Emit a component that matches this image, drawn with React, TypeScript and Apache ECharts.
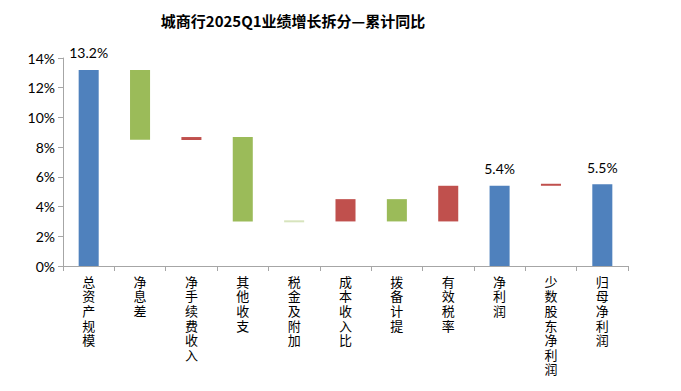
import React, { useEffect, useRef } from "react";
import * as echarts from "echarts";

const titleText = "城商行2025Q1业绩增长拆分—累计同比";
const categories = [
  "总资产规模",
  "净息差",
  "净手续费收入",
  "其他收支",
  "税金及附加",
  "成本收入比",
  "拨备计提",
  "有效税率",
  "净利润",
  "少数股东净利润",
  "归母净利润",
];
// bottom and top of each floating bar (%)
const barLow = [0, 8.5, 8.48, 3.0, 2.94, 3.0, 3.0, 3.0, 0, 5.4, 0];
const barHigh = [13.2, 13.2, 8.68, 8.68, 3.0, 4.5, 4.5, 5.4, 5.4, 5.5, 5.5];
// bar kind: total / up / down / downLight
const barKind = ["total", "down", "up", "down", "downLight", "up", "down", "up", "total", "up", "total"];
const yTicks = { min: 0, max: 14, interval: 2 };

const kindColor: Record<string, string> = {
  total: "#4F81BD",
  up: "#C0504D",
  down: "#9BBB59",
  downLight: "#D7E4BD",
};

export default function App() {
  const ref = useRef<HTMLDivElement>(null);
  useEffect(() => {
    if (!ref.current) return;
    const chart = echarts.init(ref.current, undefined, { renderer: "svg" });
    const numFont = "Lato";
    chart.setOption({
      animation: false,
      title: {
        text: titleText,
        left: 288,
        top: 8,
        textAlign: "center",
        textStyle: {
          fontFamily: "Noto Sans CJK SC",
          fontSize: 15,
          fontWeight: "bold",
          color: "#000",
        },
      },
      grid: { left: 63, right: 53, top: 58, bottom: 125, containLabel: false },
      xAxis: {
        type: "category",
        data: categories,
        boundaryGap: true,
        axisLine: { lineStyle: { color: "#A6A6A6", width: 1 } },
        axisTick: { show: true, alignWithLabel: false, length: 5, lineStyle: { color: "#A6A6A6" } },
        axisLabel: {
          interval: 0,
          margin: 8,
          fontFamily: "Noto Sans CJK SC",
          fontSize: 13,
          lineHeight: 14.6,
          color: "#000",
          verticalAlign: "top",
          formatter: (v: string) => v.split("").join("\n"),
        },
      },
      yAxis: {
        type: "value",
        min: yTicks.min,
        max: yTicks.max,
        interval: yTicks.interval,
        splitLine: { show: false },
        axisLine: { show: true, lineStyle: { color: "#A6A6A6", width: 1 } },
        axisTick: { show: true, length: 5, lineStyle: { color: "#A6A6A6" } },
        axisLabel: {
          formatter: "{value}%",
          fontFamily: numFont,
          fontSize: 14,
          color: "#000",
          margin: 8,
        },
      },
      series: [
        {
          type: "bar",
          stack: "w",
          data: barLow,
          itemStyle: { color: "transparent" },
          emphasis: { disabled: true },
          silent: true,
          barWidth: "39%",
        },
        {
          type: "bar",
          stack: "w",
          barWidth: "39%",
          barMinHeight: 2,
          data: barHigh.map((h, i) => ({
            value: +(h - barLow[i]).toFixed(3),
            itemStyle: {
              color: kindColor[barKind[i]],
            },
            label: {
              show: barKind[i] === "total",
              position: "top",
              distance: 10,
              formatter: () => barHigh[i].toFixed(1) + "%",
              fontFamily: numFont,
              fontSize: 14,
              color: "#000",
            },
          })),
        },
      ],
    });
    return () => chart.dispose();
  }, []);
  return (
    <div
      ref={ref}
      style={{ position: "fixed", left: 0, top: 0, width: 681, height: 391, background: "#fff" }}
    />
  );
}
